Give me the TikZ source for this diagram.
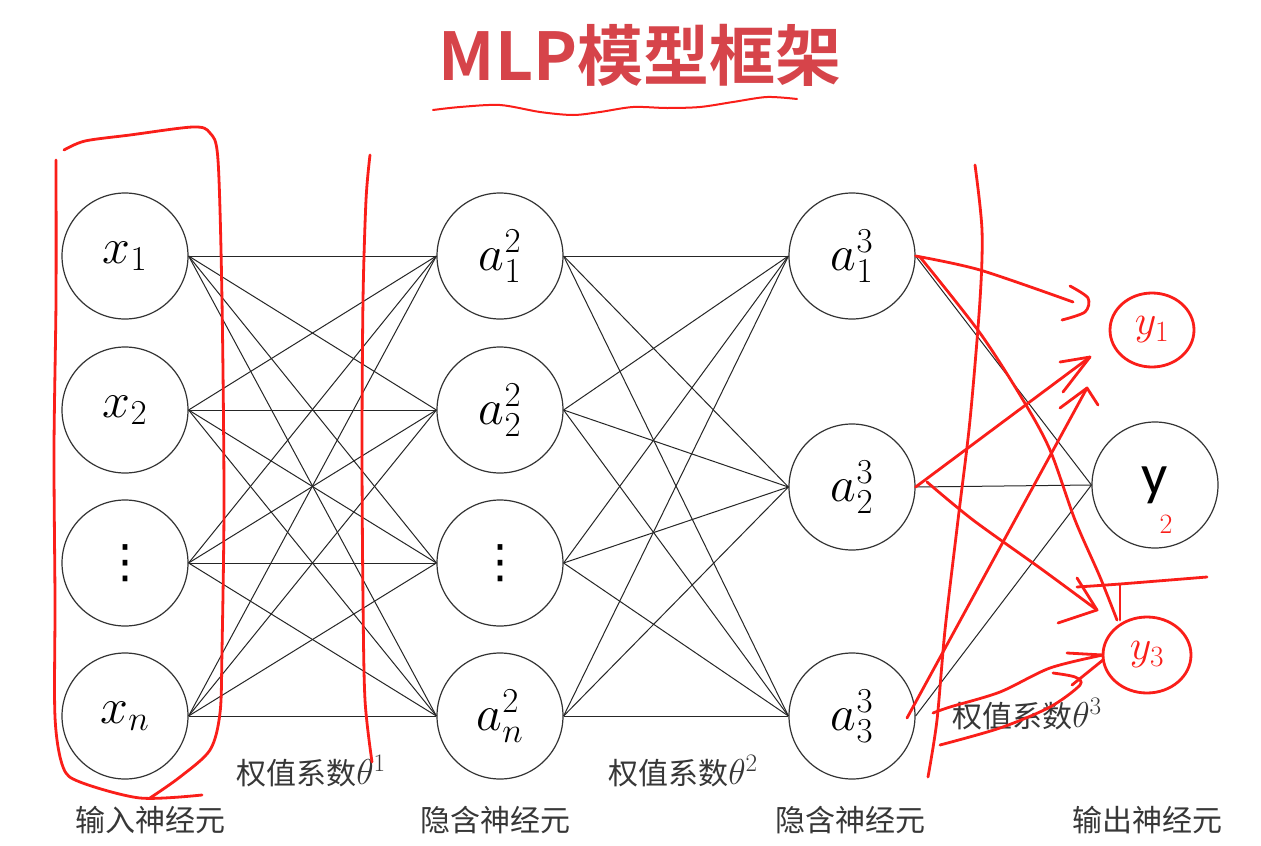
\RequirePackage{fix-cm}
\documentclass[tikz,border=0pt]{standalone}
\usepackage{amsmath}
\usepackage{fontspec}
\setmainfont{Noto Sans CJK SC}
\newfontfamily\cjk[BoldFont={Noto Sans CJK SC Bold}]{Noto Sans CJK SC}
\newfontfamily\calfont{Carlito}
\newfontfamily\symfont{DejaVu Sans}
\usetikzlibrary{calc,positioning,shapes.geometric}
\definecolor{penred}{RGB}{250,30,25}
\definecolor{titlered}{RGB}{214,68,74}
\definecolor{labelgray}{RGB}{55,55,55}
\newcommand\colvdots{{\symfont\fontsize{46}{50}\selectfont ⋮}}
\newcommand\wtheta[1]{{\fontsize{36}{40}\selectfont$\theta^{#1}$}}
\tikzset{
  neuron/.style={circle,draw=black!80,line width=1.2pt,minimum size=126pt,inner sep=0pt,
                 font=\fontsize{50}{60}\selectfont},
  conn/.style={line width=1pt,black!85},
  layername/.style={font=\cjk\fontsize{30}{36}\selectfont,text=labelgray},
  weightname/.style={font=\cjk\fontsize{30}{36}\selectfont,text=labelgray},
  pen/.style={draw=penred,line width=2.8pt,line cap=round,line join=round},
  handcirc/.style={ellipse,pen,minimum width=84pt,minimum height=74pt,inner sep=0pt,
                   text=penred,font=\fontsize{42}{46}\selectfont},
}

\begin{document}
\begin{tikzpicture}[x=1pt,y=-1pt]
  \fill[white] (0,0) rectangle (1261,846);
  \useasboundingbox (0,0) rectangle (1261,846);

  % title
  \node[font=\cjk\bfseries\fontsize{66}{70}\selectfont,text=titlered] (ttl) at (640,55) {MLP模型框架};

  % input layer
  \node[neuron] (x1) at (125,256) {$x_1$};
  \node[neuron] (x2) at (125,410) {$x_2$};
  \node[neuron] (x3) at (125,563) {\colvdots};
  \node[neuron] (x4) at (125,716) {$x_n$};
  % hidden layers
  \node[neuron] (h1) at (500,256) {$a^2_1$};
  \node[neuron] (h2) at (500,410) {$a^2_2$};
  \node[neuron] (h3) at (500,563) {\colvdots};
  \node[neuron] (h4) at (500,716) {$a^2_n$};
  \node[neuron] (g1) at (852,256) {$a^3_1$};
  \node[neuron] (g2) at (852,487) {$a^3_2$};
  \node[neuron] (g3) at (852,716) {$a^3_3$};
  % output
  \node[neuron,font=\calfont\fontsize{58}{60}\selectfont] (out) at (1155,485) {y};

  \foreach \i in {1,...,4}
    \foreach \j in {1,...,4}
      \draw[conn] (x\i.east) -- (h\j.west);
  \foreach \i in {1,...,4}
    \foreach \j in {1,2,3}
      \draw[conn] (h\i.east) -- (g\j.west);
  \foreach \j in {1,2,3}
    \draw[conn] (g\j.east) -- (out.west);

  \node[weightname] (w1) at (311,771) {权值系数\wtheta{1}};
  \node[weightname] (w2) at (683,771) {权值系数\wtheta{2}};
  \node[weightname] (w3) at (1027,714) {权值系数\wtheta{3}};

  \node[layername] (lin)  at (150,820)  {输入神经元};
  \node[layername] (lh1)  at (495,820)  {隐含神经元};
  \node[layername] (lh2)  at (850,820)  {隐含神经元};
  \node[layername] (lout) at (1147,820) {输出神经元};

  % hand annotations
  \draw[pen,line width=2pt] plot[smooth] coordinates {(433,110) (460,107) (500,105) (540,112)
    (573,115) (600,112) (633,107) (667,108) (700,107) (733,102) (767,97) (797,99)};
  \draw[pen] plot[smooth] coordinates {(64,150) (85,141) (130,135) (193,127) (210,133)
    (218,160) (222,300) (224,500) (222,650) (220,713) (210,750) (180,777) (150,798)};
  \draw[pen] plot[smooth] coordinates {(56,160) (56,300) (54,450) (55,600) (55,717)
    (63,767) (80,782) (140,798) (202,795)};
  \draw[pen] plot[smooth] coordinates {(370,155) (366,200) (363,300) (362,450) (363,600)
    (365,700) (372,762)};
  \draw[pen] plot[smooth] coordinates {(975,165) (982,230) (980,300) (970,420) (958,520)
    (945,630) (937,720) (928,777)};

  \node[handcirc] (y1) at (1152,330) {$y_1$};
  \node[handcirc,minimum width=88pt,minimum height=76pt] (y3) at (1147,655) {$y_3$};
  \node[text=penred,font=\fontsize{28}{30}\selectfont] (y2sub) at (1166,524) {$2$};

  % arrows to y1
  \draw[pen] plot[smooth] coordinates {(g1.east) (980,270) (1073,302)};
  \draw[pen] plot[smooth] coordinates {(1070,286) (1088,298) (1085,312) (1062,320)};
  \draw[pen] (g2.east) -- (1090,357);
  \draw[pen] (1060,362) -- (1090,357) -- (1063,392);
  \draw[pen] (907,718) -- (1087,388);
  \draw[pen] (1060,408) -- (1087,388) -- (1098,405);
  % arrows to y3
  \draw[pen] plot[smooth] coordinates {(920,257) (980,333) (1023,400) (1050,450)
    (1075,520) (1100,577) (1117,620)};
  \draw[pen] plot[smooth] coordinates {(927,482) (973,520) (1040,568) (1097,610)};
  \draw[pen] (1077,578) -- (1097,610) -- (1058,623);
  \draw[pen] plot[smooth] coordinates {(1077,587) (1120,584) (1207,577)};
  \draw[pen] (1120,585) -- (1120,620);
  \draw[pen] plot[smooth] coordinates {(933,713) (950,707) (1000,692) (1050,668) (1103,655)};
  \draw[pen] (1067,653) -- (1103,655);
  \draw[pen] plot[smooth] coordinates {(940,745) (1000,728) (1050,707) (1080,685)
    (1075,677) (1053,673)};
  \draw[pen] (1072,685) -- (1103,660);
\end{tikzpicture}
\end{document}
